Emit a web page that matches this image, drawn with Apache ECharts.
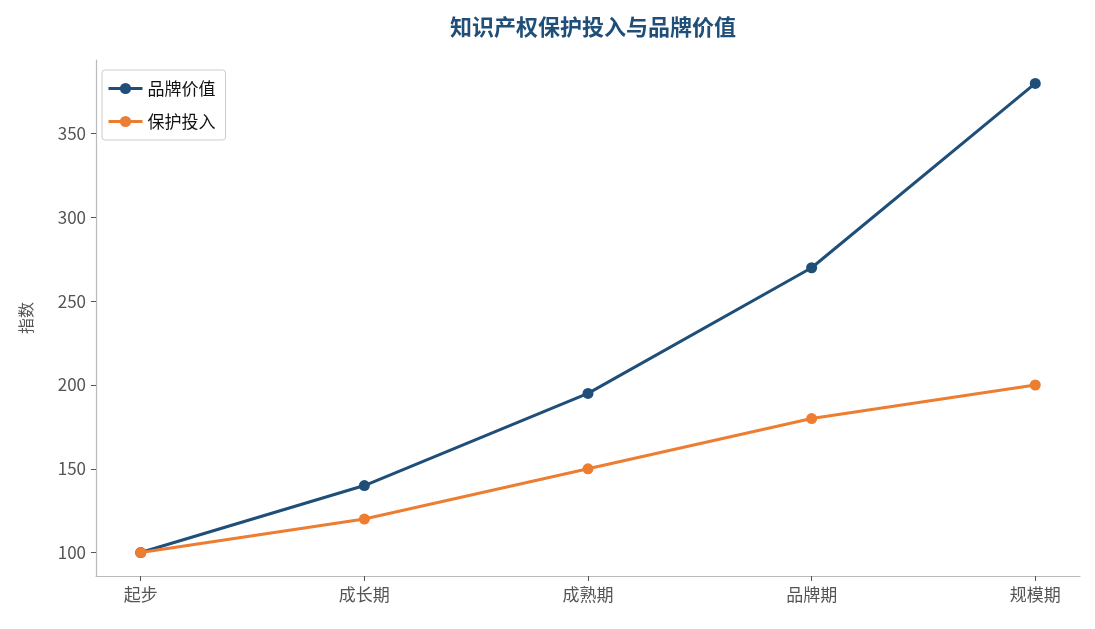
<!DOCTYPE html>
<html lang="zh">
<head>
    <meta charset="UTF-8">
    <title>知识产权保护投入与品牌价值</title>
    <script src="https://cdn.jsdelivr.net/npm/echarts@6/dist/echarts.min.js"></script>
    <style>
        html, body { margin: 0; padding: 0; background: #fff; }
        #chart { width: 1095px; height: 629px; }
    </style>
</head>
<body>
<div id="chart"></div>
<script type="text/javascript">
    // data
    const stages = ['起步', '成长期', '成熟期', '品牌期', '规模期'];
    const brandValue = [100, 140, 195, 270, 380];
    const ipInvest = [100, 120, 150, 180, 200];
    const yTicks = [100, 150, 200, 250, 300, 350];
    const xTicks = [0, 1, 2, 3, 4];

    const FONT = '"Noto Sans CJK SC", "Noto Sans", sans-serif';
    const BLUE = '#1f4e79';
    const ORANGE = '#ed7d31';

    // points as [index, value] so the x axis can carry matplotlib-like margins
    const toPairs = arr => arr.map((v, i) => [i, v]);

    let chart = echarts.init(document.getElementById('chart'));

    let option = {
        backgroundColor: '#fff',
        textStyle: { fontFamily: FONT },
        title: {
            text: '知识产权保护投入与品牌价值',
            left: 588,
            textAlign: 'center',
            top: 11,
            textStyle: { fontSize: 22, fontWeight: 'bold', color: BLUE, fontFamily: FONT }
        },
        legend: {
            left: 102,
            top: 70,
            orient: 'vertical',
            itemGap: 16,
            itemWidth: 34,
            itemHeight: 14,
            padding: [10, 10, 10, 5],
            borderColor: '#ccc',
            borderWidth: 1,
            borderRadius: 3,
            lineStyle: { width: 3 },
            textStyle: { fontSize: 17, color: '#111', fontFamily: FONT },
            data: ['品牌价值', '保护投入']
        },
        grid: { left: 96, right: 15, top: 60, bottom: 53 },
        xAxis: {
            type: 'value',
            min: -0.2,
            max: 4.2,
            axisLine: { show: true, onZero: false, lineStyle: { color: '#bbb', width: 1.2 } },
            axisTick: { show: true, length: 5, customValues: xTicks, lineStyle: { color: '#555' } },
            axisLabel: {
                customValues: xTicks,
                formatter: v => stages[Math.round(v)],
                fontSize: 17,
                color: '#555',
                margin: 10
            },
            splitLine: { show: false }
        },
        yAxis: {
            type: 'value',
            min: 86,
            max: 394,
            name: '指数',
            nameLocation: 'middle',
            nameGap: 62,
            nameTextStyle: { fontSize: 16, color: '#555' },
            axisLine: { show: true, onZero: false, lineStyle: { color: '#bbb', width: 1.2 } },
            axisTick: { show: true, length: 5, customValues: yTicks, lineStyle: { color: '#555' } },
            axisLabel: { customValues: yTicks, fontSize: 17, color: '#555', margin: 10 },
            splitLine: { show: false }
        },
        series: [
            {
                name: '品牌价值',
                type: 'line',
                data: toPairs(brandValue),
                symbol: 'circle',
                symbolSize: 11,
                lineStyle: { width: 3, color: BLUE },
                itemStyle: { color: BLUE },
                z: 2
            },
            {
                name: '保护投入',
                type: 'line',
                data: toPairs(ipInvest),
                symbol: 'circle',
                symbolSize: 11,
                lineStyle: { width: 3, color: ORANGE },
                itemStyle: { color: ORANGE },
                z: 3
            }
        ]
    };

    chart.setOption(option);
</script>
</body>
</html>
